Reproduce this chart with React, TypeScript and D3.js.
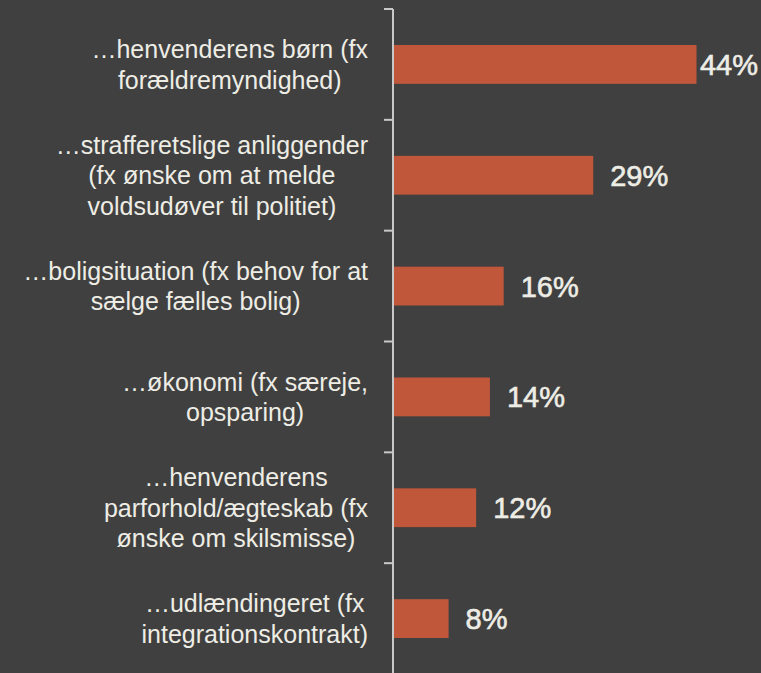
import React, { useEffect, useRef } from "react";
import * as d3 from "d3";

const categories: string[][] = [
  ["…henvenderens børn (fx", "forældremyndighed)"],
  ["…strafferetslige anliggender", "(fx ønske om at melde", "voldsudøver til politiet)"],
  ["…boligsituation (fx behov for at", "sælge fælles bolig)"],
  ["…økonomi (fx særeje,", "opsparing)"],
  ["…henvenderens", "parforhold/ægteskab (fx", "ønske om skilsmisse)"],
  ["…udlændingeret (fx", "integrationskontrakt)"],
];
const values: number[] = [44, 29, 16, 14, 12, 8];
const valueLabels: string[] = ["44%", "29%", "16%", "14%", "12%", "8%"];

const W = 761;
const H = 673;
const BG = "#404040";
const BAR = "#C0573A";
const TXT = "#EEEDE5";
const AXIS = "#C8C8C8";

export default function App() {
  const ref = useRef<SVGSVGElement | null>(null);
  useEffect(() => {
    const svg = d3.select(ref.current);
    svg.selectAll("*").remove();
    const ids = categories.map((_, i) => String(i));
    const y = d3.scaleBand<string>().domain(ids).range([9, 674]).paddingInner(0.65).paddingOuter(0.325);
    const x = d3.scaleLinear().domain([0, 44]).range([393.5, 696.5]);

    svg.append("rect").attr("width", W).attr("height", H).attr("fill", BG);

    svg.selectAll("rect.bar").data(values).enter().append("rect")
      .attr("class", "bar")
      .attr("x", x(0))
      .attr("y", (_, i) => y(ids[i])!)
      .attr("width", (d) => x(d) - x(0))
      .attr("height", y.bandwidth())
      .attr("fill", BAR);

    // axis
    const g = svg.append("g");
    g.append("line").attr("x1", 393).attr("x2", 393).attr("y1", 9).attr("y2", 674)
      .attr("stroke", AXIS).attr("stroke-width", 2);
    const step = y.step();
    d3.range(ids.length + 1).forEach((i) => {
      const yy = 9 + i * step;
      g.append("line").attr("x1", 384).attr("x2", 393).attr("y1", yy).attr("y2", yy)
        .attr("stroke", AXIS).attr("stroke-width", 2);
    });

    // category labels
    const fs = 25;
    const lh = 30.5;
    categories.forEach((lines, i) => {
      const cy = y(ids[i])! + y.bandwidth() / 2;
      const t = svg.append("text")
        .attr("font-family", "Liberation Sans, Arial, sans-serif")
        .attr("font-size", fs)
        .attr("fill", TXT)
        .attr("text-anchor", "middle");
      const n = lines.length;
      const spans = lines.map((ln, k) =>
        t.append("tspan").attr("y", cy + (k - (n - 1) / 2) * lh).attr("dy", "0.36em").text(ln)
      );
      let maxW = 0;
      spans.forEach((s) => {
        const w = (s.node() as SVGTextContentElement).getComputedTextLength();
        if (w > maxW) maxW = w;
      });
      const cx = 368 - maxW / 2;
      spans.forEach((s) => s.attr("x", cx));
    });

    // value labels
    values.forEach((v, i) => {
      const cy = y(ids[i])! + y.bandwidth() / 2;
      const t = svg.append("text")
        .attr("font-family", "Liberation Sans, Arial, sans-serif")
        .attr("font-size", 29)
        .attr("fill", TXT)
        .attr("stroke", TXT)
        .attr("stroke-width", 0.6)
        .attr("y", cy)
        .attr("dy", "0.36em")
        .text(valueLabels[i]);
      const w = (t.node() as SVGTextContentElement).getComputedTextLength();
      const xx = Math.min(x(v) + 17, W - w - 3);
      t.attr("x", xx);
    });
  }, []);
  return (
    <svg ref={ref} width={W} height={H} style={{ position: "fixed", left: 0, top: 0, display: "block" }} />
  );
}
